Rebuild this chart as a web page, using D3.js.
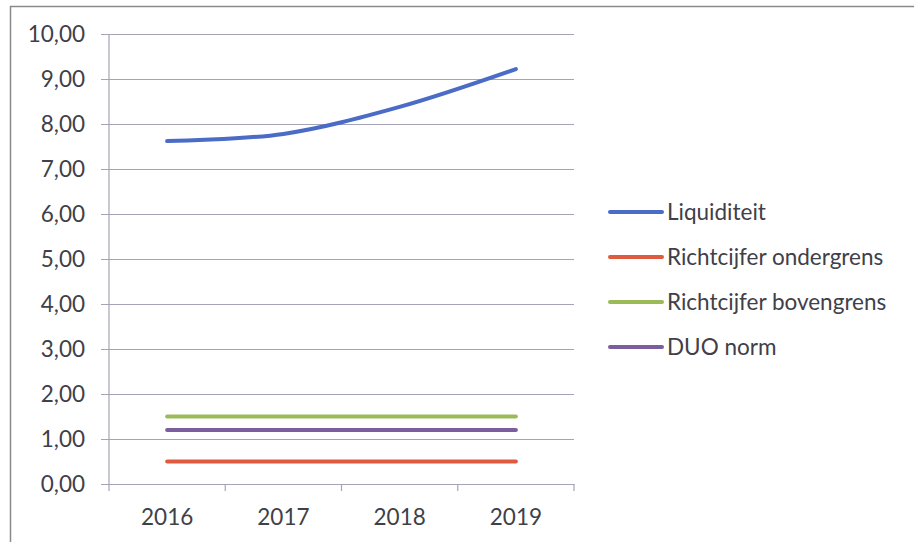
<!DOCTYPE html>
<html>
<head>
<meta charset="utf-8">
<script src="https://cdn.jsdelivr.net/npm/d3@7"></script>
<style>
  html, body { margin: 0; padding: 0; background: #fff; }
  svg { display: block; }
</style>
</head>
<body>
<svg id="chart" width="914" height="542"></svg>
<script>
// Categories (years) and series values
const years = ["2016", "2017", "2018", "2019"];
const liquiditeit = [7.62, 7.78, 8.38, 9.22];
const ondergrens = [0.5, 0.5, 0.5, 0.5];
const bovengrens = [1.5, 1.5, 1.5, 1.5];
const duoNorm = [1.2, 1.2, 1.2, 1.2];
const seriesNames = ["Liquiditeit", "Richtcijfer ondergrens", "Richtcijfer bovengrens", "DUO norm"];
const seriesColors = ["#4A6BC6", "#DE5B3F", "#9BBB59", "#7B5E9E"];
const yTicks = [0, 1, 2, 3, 4, 5, 6, 7, 8, 9, 10];

const series = [liquiditeit, ondergrens, bovengrens, duoNorm].map((vals, i) => ({
  name: seriesNames[i], color: seriesColors[i], values: vals
}));

const svg = d3.select("#chart");
const font = "Lato, 'Open Sans', sans-serif";
const fontSize = "22.5px";
const textColor = "#404048";

// Chart frame
svg.append("rect")
  .attr("x", 10.5).attr("y", 6.5)
  .attr("width", 940).attr("height", 560)
  .attr("fill", "none").attr("stroke", "#8a8a8a").attr("stroke-width", 1.5);

const plot = { left: 109, right: 574, top: 34, bottom: 484 };

const x = d3.scaleBand().domain(years).range([plot.left, plot.right]);
const y = d3.scaleLinear().domain([0, 10]).range([plot.bottom, plot.top]);

// Horizontal gridlines with left tick marks
const yAxis = d3.axisLeft(y)
  .tickValues(yTicks)
  .tickSize(plot.right - plot.left + 8)
  .tickPadding(16)
  .tickFormat(d => d3.format(".2f")(d).replace(".", ","));

const gy = svg.append("g")
  .attr("transform", `translate(${plot.right},0)`)
  .call(yAxis);
gy.select(".domain").remove();
gy.selectAll(".tick line").attr("stroke", "#a4a4b6").attr("stroke-width", 1.2);
gy.selectAll(".tick text")
  .attr("fill", textColor)
  .style("font-family", font)
  .style("font-size", fontSize);

// Vertical axis line
svg.append("line")
  .attr("x1", plot.left).attr("x2", plot.left)
  .attr("y1", plot.top).attr("y2", plot.bottom)
  .attr("stroke", "#a4a4b6").attr("stroke-width", 1.2);

// Category axis with tick marks at band edges
const gx = svg.append("g")
  .attr("transform", `translate(0,${plot.bottom})`)
  .call(d3.axisBottom(x).tickSize(0).tickPadding(25));
gx.select(".domain").attr("stroke", "#a4a4b6").attr("stroke-width", 1.2);
gx.selectAll(".tick text")
  .attr("fill", textColor)
  .style("font-family", font)
  .style("font-size", fontSize);
const edges = years.map(d => x(d)).concat([x(years[years.length - 1]) + x.bandwidth()]);
gx.selectAll(".edge").data(edges).enter().append("line")
  .attr("x1", d => d).attr("x2", d => d)
  .attr("y1", 0).attr("y2", 7)
  .attr("stroke", "#a4a4b6").attr("stroke-width", 1.2);

// Series lines (smoothed)
const line = d3.line()
  .x((d, i) => x(years[i]) + x.bandwidth() / 2)
  .y(d => y(d))
  .curve(d3.curveCatmullRom.alpha(0.5));

svg.append("g").selectAll("path")
  .data(series.slice().reverse())
  .enter().append("path")
  .attr("d", d => line(d.values))
  .attr("fill", "none")
  .attr("stroke", d => d.color)
  .attr("stroke-width", 4)
  .attr("stroke-linecap", "round");

// Legend
const legend = svg.append("g");
const rows = legend.selectAll("g").data(series).enter().append("g")
  .attr("transform", (d, i) => `translate(610,${212 + i * 45})`);
rows.append("line")
  .attr("x1", 0).attr("x2", 52)
  .attr("stroke", d => d.color)
  .attr("stroke-width", 4)
  .attr("stroke-linecap", "round");
rows.append("text")
  .attr("x", 57).attr("dy", "0.35em")
  .attr("fill", textColor)
  .style("font-family", font)
  .style("font-size", fontSize)
  .text(d => d.name);
</script>
</body>
</html>
